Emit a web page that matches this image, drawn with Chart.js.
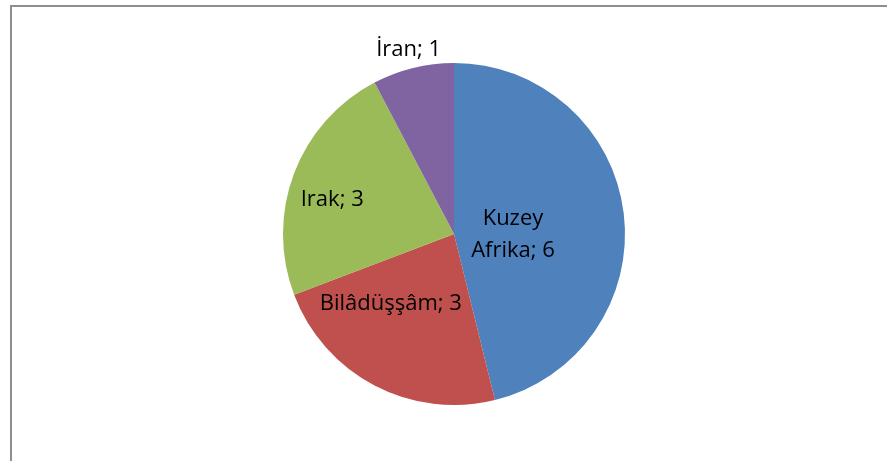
<!DOCTYPE html>
<html>
<head>
<meta charset="utf-8">
<script src="https://cdn.jsdelivr.net/npm/chart.js@4/dist/chart.umd.min.js"></script>
<style>
  html, body { margin: 0; padding: 0; background: #fff; }
  #wrap { position: relative; width: 887px; height: 461px; }
  #frame {
    position: absolute; left: 10px; top: 5px; right: 0; bottom: 0;
    border-top: 2px solid #8e8e8e; border-left: 2px solid #8e8e8e;
    pointer-events: none;
  }
</style>
</head>
<body>
<div id="wrap">
  <canvas id="pie" width="887" height="461"></canvas>
  <div id="frame"></div>
</div>
<script>
const regions = ["Kuzey Afrika", "Bilâdüşşâm", "Irak", "İran"];
const counts = [6, 3, 3, 1];
const colors = ["#4F81BD", "#C0504D", "#9BBB59", "#8064A2"];

// where each label sits: share of the radius, and turn from the slice middle (degrees)
const labelRadius = [0.345, 0.55, 0.74, 1.108];
const labelTurn = [8, 14.5, -5, 0];

const pieLabels = {
  id: "pieLabels",
  afterDatasetsDraw(chart) {
    const ctx = chart.ctx;
    const arcs = chart.getDatasetMeta(0).data;
    ctx.save();
    ctx.font = "22px 'Open Sans'";
    ctx.fillStyle = "#000";
    ctx.textAlign = "center";
    ctx.textBaseline = "middle";
    arcs.forEach((arc, i) => {
      const a = (arc.startAngle + arc.endAngle) / 2 + labelTurn[i] * Math.PI / 180;
      const d = arc.outerRadius * labelRadius[i];
      const x = arc.x + Math.cos(a) * d;
      const y = arc.y + Math.sin(a) * d;
      const text = regions[i] + "; " + counts[i];
      if (i === 0) {
        const parts = text.split(" ");
        ctx.fillText(parts[0], x, y - 16);
        ctx.fillText(parts.slice(1).join(" "), x, y + 16);
      } else {
        ctx.fillText(text, x, y);
      }
    });
    ctx.restore();
  }
};

new Chart(document.getElementById("pie"), {
  type: "pie",
  data: {
    labels: regions,
    datasets: [{
      data: counts,
      backgroundColor: colors,
      borderWidth: 0,
      hoverOffset: 0
    }]
  },
  options: {
    responsive: false,
    animation: false,
    events: [],
    layout: { padding: { top: 63, bottom: 56, left: 21, right: 0 } },
    plugins: {
      legend: { display: false },
      tooltip: { enabled: false }
    }
  },
  plugins: [pieLabels]
});
</script>
</body>
</html>
